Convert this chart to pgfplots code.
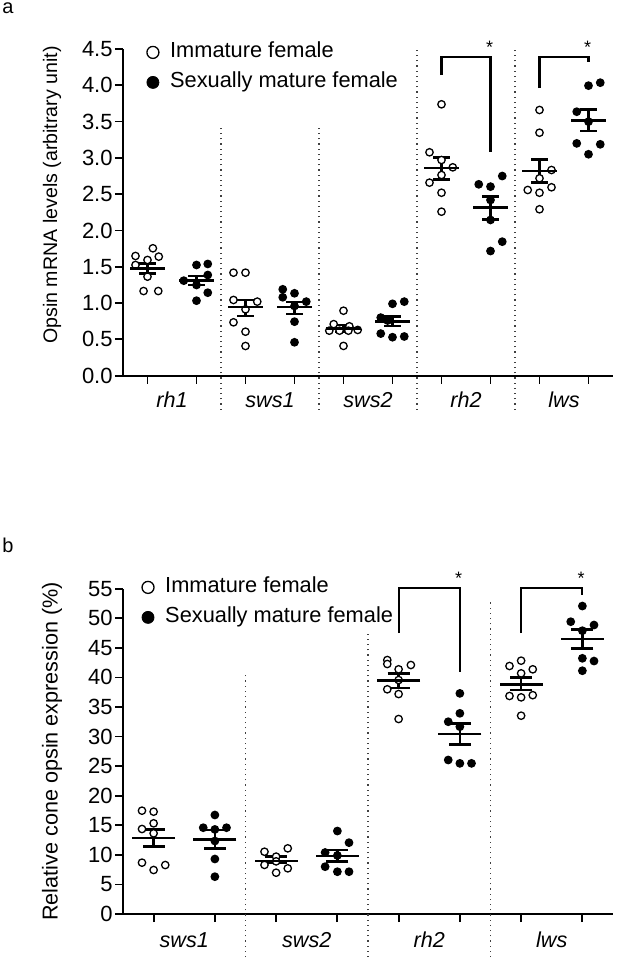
\documentclass[border=0pt]{standalone}
\usepackage{pgfplots}
\pgfplotsset{compat=1.18}
\usepackage{fontspec}
\setmainfont{Liberation Sans}
\tikzset{
  sepline/.style={dotted, line width=0.6pt, black!75},
  brkline/.style={line width=1.1pt, black},
}
\pgfplotsset{
  common/.style={
    scale only axis, width=245pt, clip=false,
    axis x line*=bottom, axis y line*=left,
    axis line style={line width=0.9pt,-},
    tick style={line width=0.9pt, black},
    major tick length=4pt, tick align=outside,
    xticklabels={},
    /pgf/number format/assume math mode=true,
    yticklabel style={font=\fontsize{11}{12}\selectfont, inner sep=1pt},
    legend style={draw=none, fill=none, inner sep=0pt, anchor=north west,
      font=\fontsize{10.9}{13}\selectfont, row sep=2.5pt, /tikz/column sep=4.6pt,
      nodes={inner sep=1pt, text height=8pt, text depth=2.5pt}},
    legend cell align=left,
    legend image code/.code={\draw[##1] plot coordinates {(0pt,0pt)};},
  },
  openm/.style={only marks, mark=*, mark size=1.85pt, mark options={fill=white, draw=black, line width=0.65pt}, forget plot},
  fillm/.style={only marks, mark=*, mark size=1.85pt, mark options={fill=black, draw=black, line width=0.65pt}, forget plot},
}
\begin{document}
\begin{tikzpicture}
\path[use as bounding box] (0pt,0pt) rectangle (308.5pt,481pt);
\node[font=\fontsize{10}{12}\selectfont] at (4pt,477pt) {a};
\node[font=\fontsize{10}{12}\selectfont] at (4pt,208.5pt) {b};
% ---------------- panel a ----------------
\begin{axis}[common,
  at={(61.5pt,293.15pt)}, anchor=south west, height=163.35pt,
  xmin=0.5, xmax=10.5, ymin=0, ymax=4.5,
  xtick={1,2,3,4,5,6,7,8,9,10},
  ytick={0,0.5,1,1.5,2,2.5,3,3.5,4,4.5},
  yticklabel style={/pgf/number format/.cd, fixed, fixed zerofill, precision=1},
  ylabel={Opsin mRNA levels (arbitrary unit)},
  ylabel style={at={(axis description cs:-0.145,0.553)}, anchor=center, font=\fontsize{9.8}{12}\selectfont},
  legend style={at={(axis description cs:0.048,1.029)}},
]
\addlegendimage{mark=*, mark size=3pt, mark options={fill=white, draw=black, line width=0.65pt}}
\addlegendentry{Immature female}
\addlegendimage{mark=*, mark size=3pt, mark options={fill=black, draw=black}}
\addlegendentry{Sexually mature female}
\draw[sepline] (axis cs:2.5,-0.47) -- (axis cs:2.5,3.43);
\draw[sepline] (axis cs:4.5,-0.47) -- (axis cs:4.5,3.43);
\draw[sepline] (axis cs:6.5,-0.47) -- (axis cs:6.5,4.48);
\draw[sepline] (axis cs:8.5,-0.47) -- (axis cs:8.5,4.48);
\addplot[openm] coordinates {
 (1.11,1.755) (0.755,1.649) (1.23,1.64) (1.0,1.594) (0.755,1.525) (1.0,1.364) (0.92,1.166) (1.22,1.166)
 (2.755,1.419) (3.0,1.419) (2.755,1.043) (3.24,1.02) (3.0,0.914) (2.755,0.735) (3.0,0.606) (3.0,0.409)
 (5.0,0.895) (4.8,0.71) (5.12,0.68) (4.71,0.62) (4.92,0.62) (5.1,0.62) (5.29,0.63) (5.0,0.41)
 (7.0,3.738) (6.755,3.077) (7.0,2.971) (7.23,2.87) (7.0,2.764) (6.755,2.659) (7.0,2.52) (7.0,2.259)
 (9.0,3.66) (9.0,3.347) (9.245,2.833) (9.0,2.719) (8.76,2.558) (9.245,2.595) (9.0,2.52) (9.0,2.292)
};
\addplot[fillm] coordinates {
 (2.0,1.525) (2.23,1.539) (1.74,1.309) (2.23,1.387) (2.0,1.249) (2.23,1.143) (2.0,1.033)
 (3.76,1.19) (4.0,1.135) (3.76,1.08) (4.24,1.02) (4.0,0.96) (4.0,0.744) (4.0,0.46)
 (6.0,0.99) (6.24,1.02) (5.76,0.80) (5.9,0.76) (5.76,0.58) (6.0,0.53) (6.24,0.54)
 (8.24,2.75) (7.76,2.636) (8.0,2.604) (8.0,2.42) (8.0,2.145) (8.24,1.846) (8.0,1.717)
 (10.0,3.995) (10.24,4.036) (9.76,3.636) (10.0,3.499) (9.76,3.2) (10.24,3.187) (10.0,3.05)
};
\addplot[black, only marks, mark=-, mark size=8.6pt, mark options={line width=1.2pt}, forget plot,
  error bars/.cd, y dir=both, y explicit, error bar style={line width=1.2pt},
  error mark options={rotate=90, line width=1.2pt, mark size=4.2pt}]
  table[x=x, y=y, y error plus=ep, y error minus=em] {
x y ep em
1 1.479 0.069 0.069
2 1.309 0.068 0.060
3 0.942 0.101 0.120
4 0.942 0.069 0.096
5 0.652 0.048 0.052
6 0.744 0.069 0.060
7 2.857 0.151 0.152
8 2.314 0.152 0.160
9 2.820 0.160 0.161
10 3.513 0.156 0.143
};
\draw[brkline] (axis cs:7,4.14) -- (axis cs:7,4.39) -- (axis cs:8,4.39) -- (axis cs:8,3.08);
\draw[brkline] (axis cs:9,3.96) -- (axis cs:9,4.39) -- (axis cs:10,4.39) -- (axis cs:10,4.32);
\node[font=\fontsize{9}{10}\selectfont] at (axis cs:7.98,4.53) {*};
\node[font=\fontsize{9}{10}\selectfont] at (axis cs:9.98,4.53) {*};
\node[font=\fontsize{10.8}{12}\selectfont\itshape, yshift=-12pt] at (axis cs:1.5,0) {rh1};
\node[font=\fontsize{10.8}{12}\selectfont\itshape, yshift=-12pt] at (axis cs:3.5,0) {sws1};
\node[font=\fontsize{10.8}{12}\selectfont\itshape, yshift=-12pt] at (axis cs:5.5,0) {sws2};
\node[font=\fontsize{10.8}{12}\selectfont\itshape, yshift=-12pt] at (axis cs:7.5,0) {rh2};
\node[font=\fontsize{10.8}{12}\selectfont\itshape, yshift=-12pt] at (axis cs:9.5,0) {lws};
\end{axis}
% ---------------- panel b ----------------
\begin{axis}[common,
  at={(61.5pt,24pt)}, anchor=south west, height=162.65pt,
  xmin=0.5, xmax=8.5, ymin=0, ymax=55,
  xtick={1,2,3,4,5,6,7,8},
  ytick={0,5,10,15,20,25,30,35,40,45,50,55},
  ylabel={Relative cone opsin expression (\%)},
  ylabel style={at={(axis description cs:-0.145,0.5)}, anchor=center, font=\fontsize{10.8}{12}\selectfont},
  legend style={at={(axis description cs:0.038,1.0437)}},
]
\addlegendimage{mark=*, mark size=3pt, mark options={fill=white, draw=black, line width=0.65pt}}
\addlegendentry{Immature female}
\addlegendimage{mark=*, mark size=3pt, mark options={fill=black, draw=black}}
\addlegendentry{Sexually mature female}
\draw[sepline] (axis cs:2.5,-7.3) -- (axis cs:2.5,41);
\draw[sepline] (axis cs:4.5,-7.3) -- (axis cs:4.5,47.8);
\draw[sepline] (axis cs:6.5,-7.3) -- (axis cs:6.5,52.7);
\addplot[openm] coordinates {
 (0.81,17.47) (1.0,17.3) (1.0,15.33) (0.81,14.37) (1.0,13.64) (0.81,8.68) (1.0,7.44) (1.19,8.28)
 (2.81,10.53) (3.19,11.1) (3.0,9.7) (2.81,8.3) (3.0,8.9) (3.19,7.72) (3.0,6.98)
 (4.815,42.94) (4.815,42.27) (5.0,41.37) (5.2,42.1) (5.0,39.56) (4.815,37.99) (5.0,37.19) (5.0,32.97)
 (7.0,42.83) (6.81,41.93) (7.19,41.37) (7.0,40.69) (6.81,36.86) (7.0,36.63) (7.19,37.0) (7.0,33.53)
};
\addplot[fillm] coordinates {
 (2.0,16.74) (1.81,14.59) (2.0,14.3) (2.19,14.59) (2.0,12.34) (2.0,9.3) (2.0,6.31)
 (4.0,14.03) (4.19,12.06) (3.8,10.4) (4.0,9.9) (3.8,8.0) (4.0,7.15) (4.19,7.15)
 (6.0,37.3) (6.0,33.93) (5.81,32.51) (6.0,31.67) (5.81,26.04) (6.0,25.47) (6.19,25.47)
 (8.0,52.07) (7.81,49.42) (8.19,48.86) (8.0,47.9) (8.0,43.23) (8.19,42.77) (8.0,41.13)
};
\addplot[black, only marks, mark=-, mark size=10.8pt, mark options={line width=1.2pt}, forget plot,
  error bars/.cd, y dir=both, y explicit, error bar style={line width=1.2pt},
  error mark options={rotate=90, line width=1.2pt, mark size=5.5pt}]
  table[x=x, y=y, y error plus=ep, y error minus=em] {
x y ep em
1 12.80 1.50 1.42
2 12.63 1.57 1.53
3 9.01 0.69 0.33
4 9.81 1.01 0.96
5 39.45 1.24 1.19
6 30.43 1.81 1.74
7 38.83 1.17 0.96
8 46.49 1.64 1.57
};
\draw[brkline] (axis cs:5,47.5) -- (axis cs:5,55.1) -- (axis cs:6,55.1) -- (axis cs:6,41.0);
\draw[brkline] (axis cs:7,47.5) -- (axis cs:7,55.1) -- (axis cs:8,55.1) -- (axis cs:8,53.9);
\node[font=\fontsize{9}{10}\selectfont] at (axis cs:5.98,56.7) {*};
\node[font=\fontsize{9}{10}\selectfont] at (axis cs:7.98,56.7) {*};
\node[font=\fontsize{10.8}{12}\selectfont\itshape, yshift=-13pt] at (axis cs:1.5,0) {sws1};
\node[font=\fontsize{10.8}{12}\selectfont\itshape, yshift=-13pt] at (axis cs:3.5,0) {sws2};
\node[font=\fontsize{10.8}{12}\selectfont\itshape, yshift=-13pt] at (axis cs:5.5,0) {rh2};
\node[font=\fontsize{10.8}{12}\selectfont\itshape, yshift=-13pt] at (axis cs:7.5,0) {lws};
\end{axis}
\end{tikzpicture}
\end{document}
